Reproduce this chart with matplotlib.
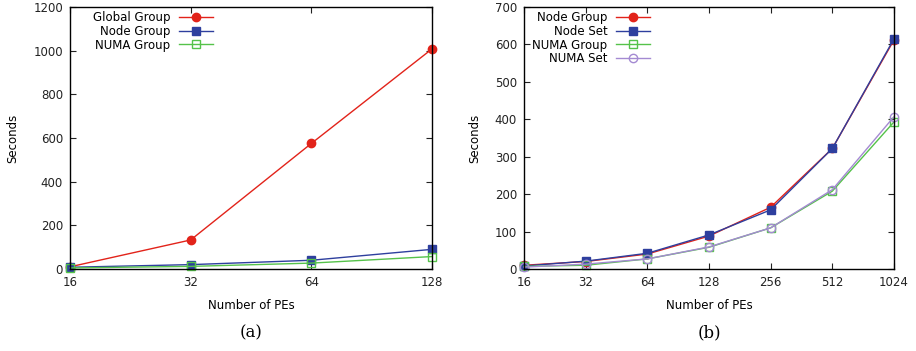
import numpy as np
from matplotlib import pyplot as plt

# Panel (a): group scaling
pes_a = [16, 32, 64, 128]
global_group = [10, 133, 575, 1008]
node_group_a = [8, 20, 40, 90]
numa_group_a = [5, 12, 27, 57]

# Panel (b): group vs set
pes_b = [16, 32, 64, 128, 256, 512, 1024]
node_group_b = [10, 20, 40, 88, 165, 322, 612]
node_set_b = [8, 21, 42, 91, 158, 322, 615]
numa_group_b = [7, 10, 27, 58, 110, 208, 393]
numa_set_b = [5, 13, 27, 59, 110, 212, 407]

RED = '#e2231a'
BLUE = '#2e3f9e'
GREEN = '#55c24a'
PURPLE = '#a48ad2'

plt.rcParams['font.family'] = 'DejaVu Sans'
plt.rcParams['font.size'] = 8.5

fig = plt.figure(figsize=(9.16, 3.51), dpi=100)
ax1 = fig.add_axes([70 / 916, 1 - 269 / 351, 362 / 916, 262 / 351])
ax2 = fig.add_axes([524 / 916, 1 - 269 / 351, 370 / 916, 262 / 351])


def style_axes(ax, xs):
    ax.set_xscale('log', base=2)
    ax.set_xticks(xs)
    ax.set_xticklabels([str(x) for x in xs])
    ax.minorticks_off()
    ax.set_xlim(xs[0], xs[-1])
    ax.tick_params(direction='in', top=True, right=True, length=4,
                   width=0.8, labelsize=8.5, colors='#222222', pad=5)
    for s in ax.spines.values():
        s.set_linewidth(1.0)
    ax.set_xlabel('Number of PEs', fontsize=8.5, labelpad=7)
    ax.set_ylabel('Seconds', fontsize=8.5, labelpad=10)


lw = 1.0
ax1.plot(pes_a, global_group, color=RED, lw=lw, marker='o', ms=6, label='Global Group')
ax1.plot(pes_a, node_group_a, color=BLUE, lw=lw, marker='s', ms=6, label='Node Group')
ax1.plot(pes_a, numa_group_a, color=GREEN, lw=lw, marker='s', ms=6, mfc='none', mew=1.0, label='NUMA Group')
style_axes(ax1, pes_a)
ax1.set_ylim(0, 1200)
ax1.set_yticks(range(0, 1201, 200))

ax2.plot(pes_b, node_group_b, color=RED, lw=lw, marker='o', ms=6, label='Node Group')
ax2.plot(pes_b, node_set_b, color=BLUE, lw=lw, marker='s', ms=6, label='Node Set')
ax2.plot(pes_b, numa_group_b, color=GREEN, lw=lw, marker='s', ms=6, mfc='none', mew=1.0, label='NUMA Group')
ax2.plot(pes_b, numa_set_b, color=PURPLE, lw=lw, marker='o', ms=6, mfc='none', mew=1.0, label='NUMA Set')
style_axes(ax2, pes_b)
ax2.set_ylim(0, 700)
ax2.set_yticks(range(0, 701, 100))

anchors = {ax1: (0.04, 1.015), ax2: (0.0, 1.015)}
for ax in (ax1, ax2):
    for line in ax.get_lines():
        line.set_clip_on(False)
    ax.legend(loc='upper left', bbox_to_anchor=anchors[ax], markerfirst=False,
              frameon=False, fontsize=8.5, handlelength=2.9, handletextpad=0.7,
              labelspacing=0.05, borderaxespad=0.3)
    for t in ax.get_legend().get_texts():
        t.set_ha('right')

fig.text(251 / 916, 1 - 333 / 351, '(a)', family='DejaVu Serif', fontsize=12, ha='center', va='center')
fig.text(709 / 916, 1 - 333 / 351, '(b)', family='DejaVu Serif', fontsize=12, ha='center', va='center')

fig.savefig('out.png', dpi=100)
